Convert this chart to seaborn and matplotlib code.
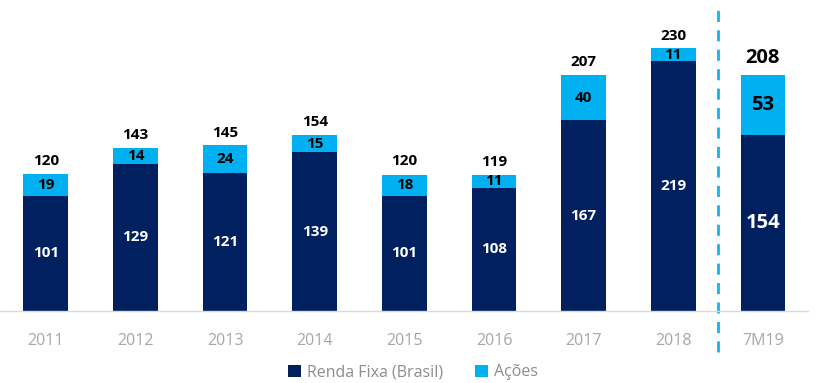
import seaborn as sns
import pandas as pd
import numpy as np
import matplotlib.pyplot as plt

anos = ['2011', '2012', '2013', '2014', '2015', '2016', '2017', '2018', '7M19']
renda_fixa = [101, 129, 121, 139, 101, 108, 167, 219, 154]
acoes = [19, 14, 24, 15, 18, 11, 40, 11, 53]
totais = [120, 143, 145, 154, 120, 119, 207, 230, 208]

azul_escuro = '#002060'
azul_claro = '#00b0f0'

sns.set_style('white')
plt.rcParams['font.family'] = ['Open Sans', 'DejaVu Sans']

df = pd.DataFrame({'ano': anos, 'rf': renda_fixa, 'ac': acoes})
df['total'] = df['rf'] + df['ac']

fig = plt.figure(figsize=(8.26, 3.83), dpi=100)
ax = fig.add_axes([0.0, 0.188, 0.978, 0.76])

sns.barplot(data=df, x='ano', y='total', color=azul_claro, width=0.5,
            saturation=1, ax=ax, label='Ações', linewidth=0)
sns.barplot(data=df, x='ano', y='rf', color=azul_escuro, width=0.5,
            saturation=1, ax=ax, label='Renda Fixa (Brasil)', linewidth=0)
h, l = ax.get_legend_handles_labels()
if ax.get_legend() is not None:
    ax.get_legend().remove()

ax.set_xlim(-0.51, 8.5)
ax.set_ylim(0, 255)
ax.set_xlabel('')
ax.set_ylabel('')
ax.set_yticks([])
for s in ['top', 'right', 'left']:
    ax.spines[s].set_visible(False)
ax.spines['bottom'].set_color('#d9d9d9')
ax.spines['bottom'].set_linewidth(1)
ax.tick_params(axis='x', length=0, labelsize=11.5, labelcolor='#a6a6a6', pad=16)

for i in range(len(anos)):
    grande = anos[i] == '7M19'
    fs = 14.5 if grande else 11
    ax.text(i, renda_fixa[i] / 2, str(renda_fixa[i]), ha='center', va='center',
            color='white', fontsize=fs, fontweight='bold')
    ax.text(i, renda_fixa[i] + acoes[i] / 2, str(acoes[i]), ha='center', va='center',
            color='black', fontsize=fs, fontweight='bold')
    ax.text(i, totais[i] + 5, str(totais[i]), ha='center', va='bottom',
            color='black', fontsize=fs, fontweight='bold')

ax.axvline(7.5, ymin=-0.14, ymax=1.035, color='#1ab0e8', lw=2,
           linestyle=(0, (4, 3)), clip_on=False)

ordem = [l.index('Renda Fixa (Brasil)'), l.index('Ações')]
leg = fig.legend([h[k] for k in ordem], [l[k] for k in ordem], loc='center',
                 bbox_to_anchor=(0.5, 0.028), ncol=2, frameon=False,
                 fontsize=11.5, handlelength=0.8, handleheight=0.8,
                 handletextpad=0.4, columnspacing=2.0)
for t in leg.get_texts():
    t.set_color('#8c8c8c')

fig.savefig('out.png', dpi=100)
